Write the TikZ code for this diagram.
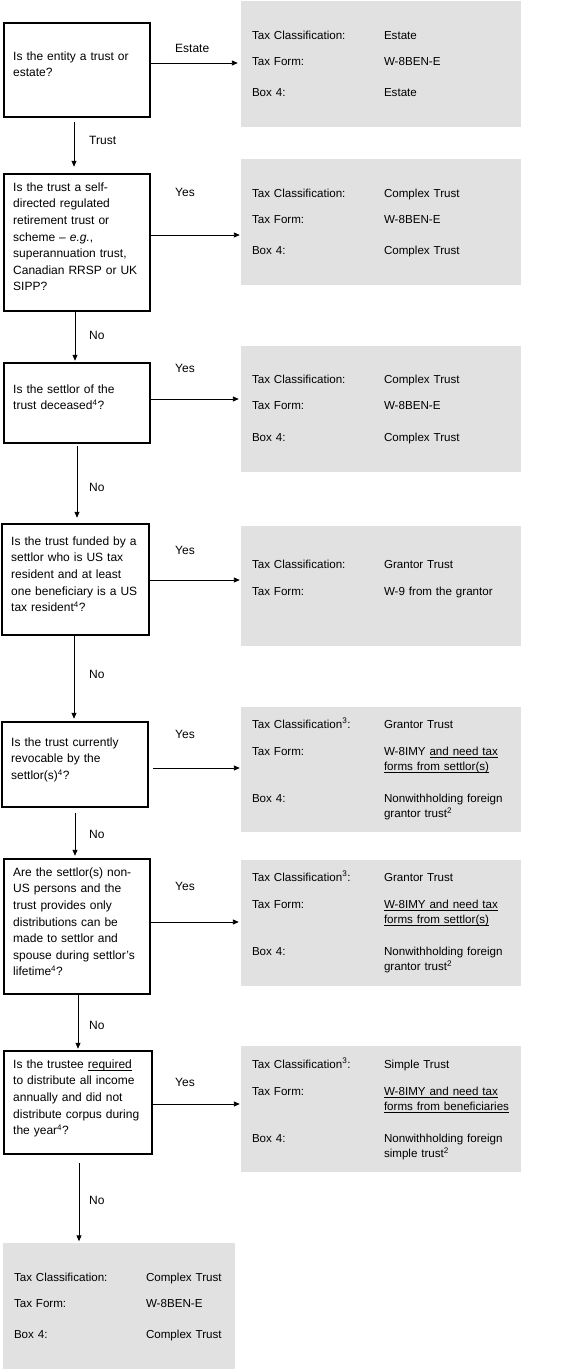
\documentclass[tikz,border=0pt]{standalone}
\usepackage{fontspec}
\setmainfont{Liberation Sans}
\usetikzlibrary{arrows.meta}
\definecolor{boxgrey}{RGB}{225,225,225}
\newsavebox\ulbox
\newcommand\myul[1]{\leavevmode\sbox\ulbox{#1}\rlap{\rule[-2.2pt]{\wd\ulbox}{0.6pt}}\usebox\ulbox}
\newcommand\grow[5]{%
  \node[gtext] (#1#2l) at ([shift={(11,#3)}]#1.north west) {#4};
  \node[gtext] (#1#2v) at ([shift={(143,#3)}]#1.north west) {#5};}
\tikzset{
  qbox/.style={draw, line width=2.5pt, inner sep=0pt},
  gbox/.style={fill=boxgrey, inner sep=0pt, minimum width=280pt, minimum height=126pt},
  qtext/.style={anchor=base west, inner sep=0pt, text width=150pt, align=left, font=\fontsize{12}{16.6}\selectfont},
  gtext/.style={anchor=base west, inner sep=0pt, text width=140pt, align=left, font=\fontsize{11.6}{15.7}\selectfont},
  lab/.style={anchor=base west, inner sep=0pt, font=\fontsize{12}{14}\selectfont},
  arr/.style={-{Triangle[length=6pt,width=5pt]}, line width=0.9pt, shorten >=1pt}
}
\begin{document}
\begin{tikzpicture}[x=1pt, y=-1pt]
\useasboundingbox (0,0) rectangle (565,1371);

% question boxes
\node[qbox, minimum width=146pt, minimum height=94pt]  (q1) at (77,70) {};
\node[qbox, minimum width=146pt, minimum height=137pt] (q2) at (77,242.5) {};
\node[qbox, minimum width=146pt, minimum height=80pt]  (q3) at (77,403) {};
\node[qbox, minimum width=147pt, minimum height=111pt] (q4) at (75.5,579.5) {};
\node[qbox, minimum width=146pt, minimum height=85pt]  (q5) at (75,764.5) {};
\node[qbox, minimum width=146pt, minimum height=135pt] (q6) at (77,926.5) {};
\node[qbox, minimum width=148pt, minimum height=103pt] (q7) at (78,1102.5) {};

% question texts
\node[qtext] (t1) at (13,60.3) {Is the entity a trust or\\estate?};
\node[qtext] (t2) at (13,191.3) {Is the trust a self-\\directed regulated\\retirement trust or\\scheme – \textit{e.g.},\\superannuation trust,\\Canadian RRSP or UK\\SIPP?};
\node[qtext] (t3) at (13,393.3) {Is the settlor of the\\trust deceased\textsuperscript{4}?};
\node[qtext] (t4) at (11,545.3) {Is the trust funded by a\\settlor who is US tax\\resident and at least\\one beneficiary is a US\\tax resident\textsuperscript{4}?};
\node[qtext] (t5) at (11,746.3) {Is the trust currently\\revocable by the\\settlor(s)\textsuperscript{4}?};
\node[qtext] (t6) at (13,876.3) {Are the settlor(s) non-\\US persons and the\\trust provides only\\distributions can be\\made to settlor and\\spouse during settlor’s\\lifetime\textsuperscript{4}?};
\node[qtext] (t7) at (13,1068.3) {Is the trustee \myul{required}\\to distribute all income\\annually and did not\\distribute corpus during\\the year\textsuperscript{4}?};

% grey result boxes
\node[gbox] (g1) at (381,64) {};
\node[gbox] (g2) at (381,222) {};
\node[gbox] (g3) at (381,409) {};
\node[gbox, minimum height=120pt] (g4) at (381,586) {};
\node[gbox, minimum height=125pt] (g5) at (381,769.5) {};
\node[gbox] (g6) at (381,923) {};
\node[gbox] (g7) at (381,1109) {};
\node[gbox, minimum width=232pt] (g8) at (119,1306) {};

\grow{g1}{a}{38.3}{Tax Classification:}{Estate}
\grow{g1}{b}{64.3}{Tax Form:}{W-8BEN-E}
\grow{g1}{c}{95.3}{Box 4:}{Estate}

\grow{g2}{a}{38.3}{Tax Classification:}{Complex Trust}
\grow{g2}{b}{64.3}{Tax Form:}{W-8BEN-E}
\grow{g2}{c}{95.3}{Box 4:}{Complex Trust}

\grow{g3}{a}{37.3}{Tax Classification:}{Complex Trust}
\grow{g3}{b}{63.3}{Tax Form:}{W-8BEN-E}
\grow{g3}{c}{95.3}{Box 4:}{Complex Trust}

\grow{g4}{a}{42.3}{Tax Classification:}{Grantor Trust}
\grow{g4}{b}{69.3}{Tax Form:}{W-9 from the grantor}

\grow{g5}{a}{21.3}{Tax Classification\textsuperscript{3}:}{Grantor Trust}
\grow{g5}{b}{48.3}{Tax Form:}{W-8IMY \myul{and need tax}\\\myul{forms from settlor(s)}}
\grow{g5}{c}{95.3}{Box 4:}{Nonwithholding foreign\\grantor trust\textsuperscript{2}}

\grow{g6}{a}{21.3}{Tax Classification\textsuperscript{3}:}{Grantor Trust}
\grow{g6}{b}{48.3}{Tax Form:}{\myul{W-8IMY and need tax}\\\myul{forms from settlor(s)}}
\grow{g6}{c}{95.3}{Box 4:}{Nonwithholding foreign\\grantor trust\textsuperscript{2}}

\grow{g7}{a}{22.3}{Tax Classification\textsuperscript{3}:}{Simple Trust}
\grow{g7}{b}{49.3}{Tax Form:}{\myul{W-8IMY and need tax}\\\myul{forms from beneficiaries}}
\grow{g7}{c}{96.3}{Box 4:}{Nonwithholding foreign\\simple trust\textsuperscript{2}}

\grow{g8}{a}{38.3}{Tax Classification:}{Complex Trust}
\grow{g8}{b}{64.3}{Tax Form:}{W-8BEN-E}
\grow{g8}{c}{95.3}{Box 4:}{Complex Trust}

% horizontal connectors
\draw[arr, shorten >=3pt] (q1.east |- 0,63)   -- (g1.west |- 0,63);
\draw[arr] (q2.east |- 0,235)  -- (g2.west |- 0,235);
\draw[arr, shorten >=2pt] (q3.east |- 0,399)  -- (g3.west |- 0,399);
\draw[arr] (q4.east |- 0,580)  -- (g4.west |- 0,580);
\draw[arr, shorten <=4pt] (q5.east |- 0,768)  -- (g5.west |- 0,768);
\draw[arr, shorten >=2pt] (q6.east |- 0,922)  -- (g6.west |- 0,922);
\draw[arr] (q7.east |- 0,1104) -- (g7.west |- 0,1104);

% vertical connectors
\draw[arr, shorten <=4pt, shorten >=6pt] (q1.south -| 74,0) -- (q2.north -| 74,0);
\draw[arr] (q2.south -| 75,0) -- (q3.north -| 75,0);
\draw[arr, shorten <=2pt, shorten >=5pt] (q3.south -| 77,0) -- (q4.north -| 77,0);
\draw[arr, shorten >=2pt] (q4.south -| 74,0) -- (q5.north -| 74,0);
\draw[arr, shorten <=5pt, shorten >=2pt] (q5.south -| 75,0) -- (q6.north -| 75,0);
\draw[arr] (q6.south -| 78,0) -- (q7.north -| 78,0);
\draw[arr, shorten <=8pt, shorten >=1.5pt] (q7.south -| 79,0) -- (g8.north -| 79,0);

% connector labels
\node[lab] (lEstate) at (175,52.3) {Estate};
\node[lab] (lTrust) at (89,144.3) {Trust};
\node[lab] (ly2) at (175,196.3) {Yes};
\node[lab] (ly3) at (175,372.3) {Yes};
\node[lab] (ly4) at (175,554.3) {Yes};
\node[lab] (ly5) at (175,738.3) {Yes};
\node[lab] (ly6) at (175,890.3) {Yes};
\node[lab] (ly7) at (175,1086.3) {Yes};
\node[lab] (ln2) at (89,339.3) {No};
\node[lab] (ln3) at (89,491.3) {No};
\node[lab] (ln4) at (89,678.3) {No};
\node[lab] (ln5) at (89,838.3) {No};
\node[lab] (ln6) at (89,1029.3) {No};
\node[lab] (ln7) at (89,1204.3) {No};
\end{tikzpicture}
\end{document}
